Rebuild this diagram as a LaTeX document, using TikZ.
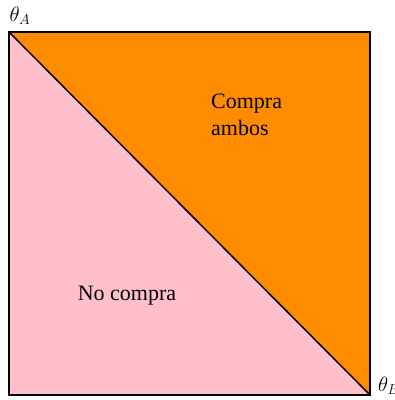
\documentclass[tikz,border=0pt]{standalone}
\usepackage{fontspec}
\setmainfont{Liberation Serif}
\begin{document}
\begin{tikzpicture}[x=1pt,y=-1pt,
  lbl/.style={font=\fontsize{22}{27}\selectfont, inner sep=0pt}]
\useasboundingbox (0,0) rectangle (395,400);
\coordinate (tl) at (9,32);
\coordinate (tr) at (370,32);
\coordinate (bl) at (9,395);
\coordinate (br) at (370,395);
\fill[fill={rgb,255:red,255;green,140;blue,0}] (tl) -- (tr) -- (br) -- cycle;
\fill[fill={rgb,255:red,255;green,192;blue,203}] (tl) -- (bl) -- (br) -- cycle;
\draw[line width=1.5pt] (tl) rectangle (br);
\draw[line width=1.5pt] (tl) -- (br);
\node[lbl, anchor=base west] (ca) at (211,108) {Compra};
\node[lbl, anchor=base west] (cb) at (211,135) {ambos};
\node[lbl] (nc) at (127,296) {No compra};
\node[lbl] (ta) at (20,16) {$\theta_A$};
\node[lbl, anchor=west] (tb) at (378,386) {$\theta_B$};
\end{tikzpicture}
\end{document}
